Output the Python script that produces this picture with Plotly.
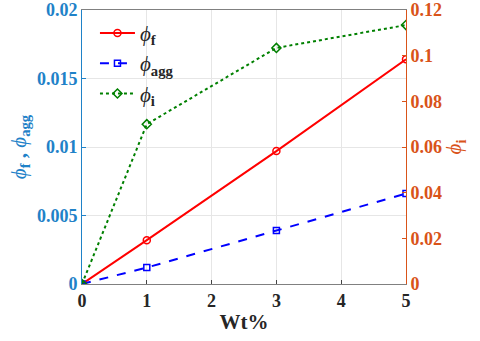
import plotly.graph_objects as go

wt = [0, 1, 3, 5]
phi_f = [0, 0.0032, 0.0097, 0.0164]
phi_agg = [0, 0.0012, 0.0039, 0.0066]
phi_i = [0, 0.070, 0.1034, 0.1134]

blue_ax = "#1f82c8"
orange_ax = "#d95319"
font_fam = "Liberation Serif"

fig = go.Figure()
fig.add_trace(go.Scatter(x=wt, y=phi_f, name="<i>ϕ</i><sub><b>f</b></sub>", mode="lines+markers",
                         line=dict(color="red", width=2),
                         marker=dict(symbol="circle-open", size=7, color="red", line=dict(width=1.5))))
fig.add_trace(go.Scatter(x=wt, y=phi_agg, name="<i>ϕ</i><sub><b>agg</b></sub>", mode="lines+markers",
                         line=dict(color="blue", width=2, dash="dash"),
                         marker=dict(symbol="square-open", size=6, color="blue", line=dict(width=1.5))))
fig.add_trace(go.Scatter(x=wt, y=phi_i, name="<i>ϕ</i><sub><b>i</b></sub>", mode="lines+markers", yaxis="y2",
                         line=dict(color="green", width=2, dash="dot"),
                         marker=dict(symbol="diamond-open", size=7, color="green", line=dict(width=1.5))))

fig.update_layout(
    width=480, height=341,
    margin=dict(l=82, r=74, t=10, b=57, autoexpand=False),
    paper_bgcolor="white", plot_bgcolor="white",
    font=dict(family=font_fam, size=18, color="#262626"),
    showlegend=True,
    legend=dict(x=0.04, y=0.99, xanchor="left", yanchor="top", bgcolor="rgba(255,255,255,0)",
                font=dict(family=font_fam, size=21, color="#262626"), itemwidth=35, tracegroupgap=0),
    xaxis=dict(range=[0, 5], tickvals=[0, 1, 2, 3, 4, 5], ticks="inside", ticklen=4,
               showgrid=True, gridcolor="#e6e6e6", zeroline=False, automargin=False,
               showline=True, linecolor="#808080", mirror=True,
               tickfont=dict(size=18, color="#262626", family=font_fam, weight="bold"),
               title=dict(text="<b>Wt%</b>", font=dict(family=font_fam, size=21, color="#262626"), standoff=4)),
    yaxis=dict(range=[0, 0.02], tickvals=[0, 0.005, 0.01, 0.015, 0.02],
               ticktext=["0", "0.005", "0.01", "0.015", "0.02"],
               ticks="inside", ticklen=4, tickcolor=blue_ax, automargin=False,
               showgrid=True, gridcolor="#e6e6e6", zeroline=False,
               showline=True, linecolor=blue_ax,
               tickfont=dict(size=18, color=blue_ax, family=font_fam, weight="bold"),
               title=dict(text="<i>ϕ</i><sub><b>f</b></sub><b> , </b><i>ϕ</i><sub><b>agg</b></sub>",
                          font=dict(family=font_fam, size=21, color=blue_ax), standoff=4)),
    yaxis2=dict(range=[0, 0.12], tickvals=[0, 0.02, 0.04, 0.06, 0.08, 0.1, 0.12],
                ticktext=["0", "0.02", "0.04", "0.06", "0.08", "0.1", "0.12"],
                overlaying="y", side="right", ticks="inside", ticklen=4, tickcolor=orange_ax,
                showgrid=False, zeroline=False, showline=True, linecolor=orange_ax, automargin=False,
                tickfont=dict(size=18, color=orange_ax, family=font_fam, weight="bold"),
                title=dict(text="<i>ϕ</i><sub><b>i</b></sub>", font=dict(family=font_fam, size=21, color=orange_ax), standoff=4)),
)

fig.write_html("out.html", config={"displayModeBar": False},
               post_script="document.body.style.margin='0';")
